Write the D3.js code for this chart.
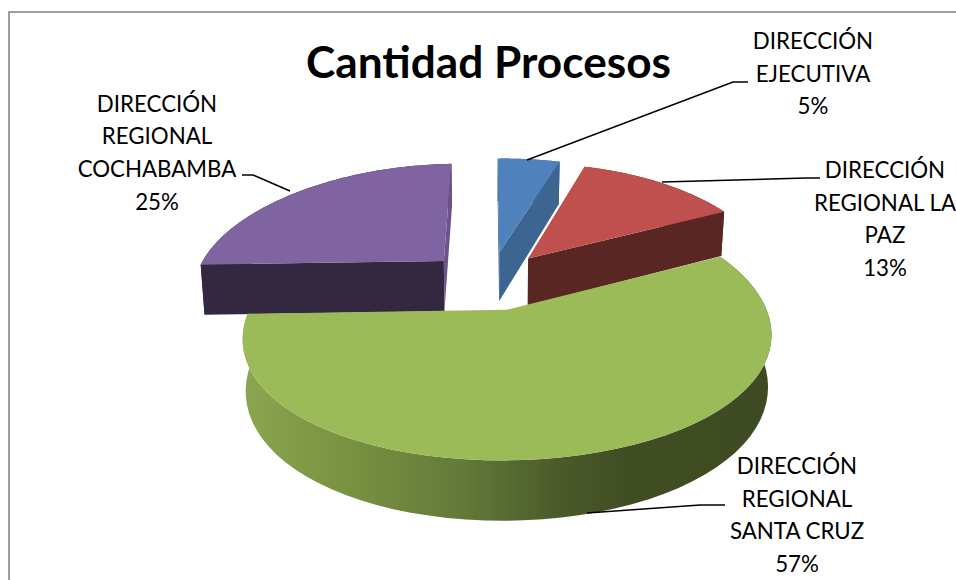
<!DOCTYPE html>
<html><head><meta charset="utf-8">
<script src="https://cdn.jsdelivr.net/npm/d3@7"></script>
<style>html,body{margin:0;padding:0;background:#fff;overflow:hidden}svg{display:block}</style>
</head><body><svg id="c" width="956" height="580"></svg>
<script>
const categories = ["DIRECCIÓN EJECUTIVA","DIRECCIÓN REGIONAL LA PAZ","DIRECCIÓN REGIONAL SANTA CRUZ","DIRECCIÓN REGIONAL COCHABAMBA"];
const values = [5,13,57,25];
const labelLines = [["DIRECCIÓN","EJECUTIVA"],["DIRECCIÓN","REGIONAL LA","PAZ"],["DIRECCIÓN","REGIONAL","SANTA CRUZ"],["DIRECCIÓN","REGIONAL","COCHABAMBA"]];
const topColors = ["#4f81bd","#c0504d","#9bbb59","#8064a2"];
const wallColors = ["#3c6591","#5a2624","url(#greenWall)","#332840"];
const cutColors = ["#3c6591","#5a2624","#6a8039","#332840"];
const sliverColor = "#6a5489";
const labelAnchors = [[813,49],[885,178],[797,474],[157,111.5]];
const leaders = [[[527,160],[733,82],[748,82]],[[662,182],[806,178],[820,178]],[[587,513],[700,505],[725,505]],[[290,191],[253,175],[242,175]]];

const svg = d3.select("#c");
const defs = svg.append("defs");
const grad = defs.append("linearGradient").attr("id","greenWall");
[[0,"#8ca551"],[0.22,"#76903f"],[0.42,"#62793a"],[0.6,"#4a5a29"],[0.72,"#414e23"],[1,"#3e4a21"]].forEach(s=>grad.append("stop").attr("offset",s[0]).attr("stop-color",s[1]));

svg.append("rect").attr("x",9).attr("y",12).attr("width",1100).attr("height",900).attr("fill","#fff").attr("stroke","#868686").attr("stroke-width",1.6);

// perspective projection of the pie plane, with a slight roll
const x0=490, y0=280.4, Rs=248, A=117, kx=0.2, ky=0.16, H=47, explode=0.25, roll=0.015;
const sliceShiftU=[0,-0.006,0.008,-0.016], sliceRadius=[1,0.995,0.992,1.015], sliceDepth=[1.08,1.03,1.03,1.1];
function proj(u,v,z){
  const sx=1/(1-kx*v), sy=1/(1-ky*v);
  const x=x0+Rs*u*sx*(1-0.012*z);
  return [x, y0+A*v*sy+H*z*sy-roll*(x-x0)];
}
const pie=d3.pie().sort(null).value(d=>d).startAngle(0).endAngle(2*Math.PI);
const arcs=pie(values);
const line=d3.line();
const area=p=>d3.polygonArea(p);

// draw order: back slices first, front slice last
[0,1,3,2].forEach(i=>{
  const a=arcs[i], mid=(a.startAngle+a.endAngle)/2, rad=sliceRadius[i], dz=sliceDepth[i];
  const cu=explode*Math.sin(mid)+sliceShiftU[i], cv=-explode*Math.cos(mid);
  const pt=(t,z)=>proj(cu+rad*Math.sin(t),cv-rad*Math.cos(t),z);
  const arcPts=z=>d3.range(0,61).map(k=>pt(a.startAngle+(a.endAngle-a.startAngle)*k/60,z));
  const g=svg.append("g").attr("class","slice");
  const apexT=proj(cu,cv,0), apexB=proj(cu,cv,dz);
  const topArc=arcPts(0), botArc=arcPts(dz);
  g.append("path").attr("d",line(topArc.concat(botArc.slice().reverse()))+"Z").attr("fill",wallColors[i]);
  [[a.startAngle,1],[a.endAngle,-1]].forEach(([t,sign])=>{
    const poly=[apexT,pt(t,0),pt(t,dz),apexB];
    if(area(poly)*sign<=0) return;
    const fill=(i===3&&sign===-1)?sliverColor:cutColors[i];
    g.append("path").attr("d",line(poly)+"Z").attr("fill",fill);
  });
  g.append("path").attr("d",line([apexT].concat(topArc))+"Z").attr("fill",topColors[i]);
});

const leader=d3.line();
svg.append("g").selectAll("path").data(leaders).join("path").attr("d",d=>leader(d)).attr("fill","none").attr("stroke","#000").attr("stroke-width",1.5);

const font="Lato, Carlito, Calibri, sans-serif";
svg.append("text").attr("x",488.5).attr("y",78).attr("text-anchor","middle").attr("font-family",font).attr("font-weight",700).attr("font-size",44.2).attr("fill","#000").text("Cantidad Procesos");

const lh=32.7;
labelLines.forEach((lines,i)=>{
  const t=svg.append("text").attr("text-anchor","middle").attr("font-family",font).attr("font-size",22.3).attr("fill","#000");
  lines.concat([d3.format(".0%")(values[i]/d3.sum(values))]).forEach((s,j)=>{
    t.append("tspan").attr("x",labelAnchors[i][0]).attr("y",labelAnchors[i][1]+j*lh).text(s);
  });
});
</script></body></html>
